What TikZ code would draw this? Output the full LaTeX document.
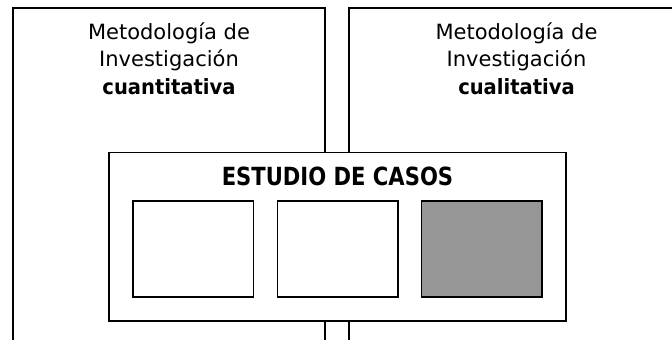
\documentclass[tikz,border=0pt]{standalone}
\usepackage{fontspec}
\setmainfont{DejaVu Sans}
\usepackage{graphicx}
\definecolor{boxgray}{RGB}{150,150,150}
\tikzset{
  frameline/.style={draw=black, line width=1.6pt},
  outerframe/.style={draw=black, line width=1.6pt, fill=white, inner sep=0pt, anchor=north west, minimum width=456.7pt, minimum height=168.3pt},
  casebox/.style={draw=black, line width=1.6pt, inner sep=0pt, anchor=north west, minimum width=120.4pt, minimum height=96pt},
  lbl/.style={anchor=base, inner sep=0pt, font=\fontsize{21}{25}\selectfont},
  titlelbl/.style={anchor=base, inner sep=0pt, font=\fontsize{25}{30}\selectfont\bfseries}
}
\begin{document}
\begin{tikzpicture}[x=1pt,y=-1pt]
\useasboundingbox (0,0) rectangle (672,340);
\clip (0,0) rectangle (672,340);
% big open frames
\draw[frameline] (13,345) -- (13,8) -- (325,8) -- (325,345);
\draw[frameline] (349,345) -- (349,8) -- (690,8) -- (690,345);
% texts of the frames
\node[lbl] (l1) at (169,39) {Metodología de};
\node[lbl] (l2) at (169,66.7) {Investigación};
\node[lbl] (l3) at (169,94) {\scalebox{0.93}[1]{\bfseries cuantitativa}};
\node[lbl] (r1) at (516.5,39) {Metodología de};
\node[lbl] (r2) at (516.5,66.7) {Investigación};
\node[lbl] (r3) at (516.5,94) {\scalebox{0.93}[1]{\bfseries cualitativa}};
% case study frame
\node[outerframe] (casos) at (108.3,151.7) {};
\node[titlelbl] (title) at (337.5,185) {\scalebox{0.845}[1]{ESTUDIO DE CASOS}};
\node[casebox] (c1) at (132.3,200.3) {};
\node[casebox] (c2) at (276.7,200.3) {};
\node[casebox, fill=boxgray] (c3) at (420.5,200.3) {};
\end{tikzpicture}
\end{document}
